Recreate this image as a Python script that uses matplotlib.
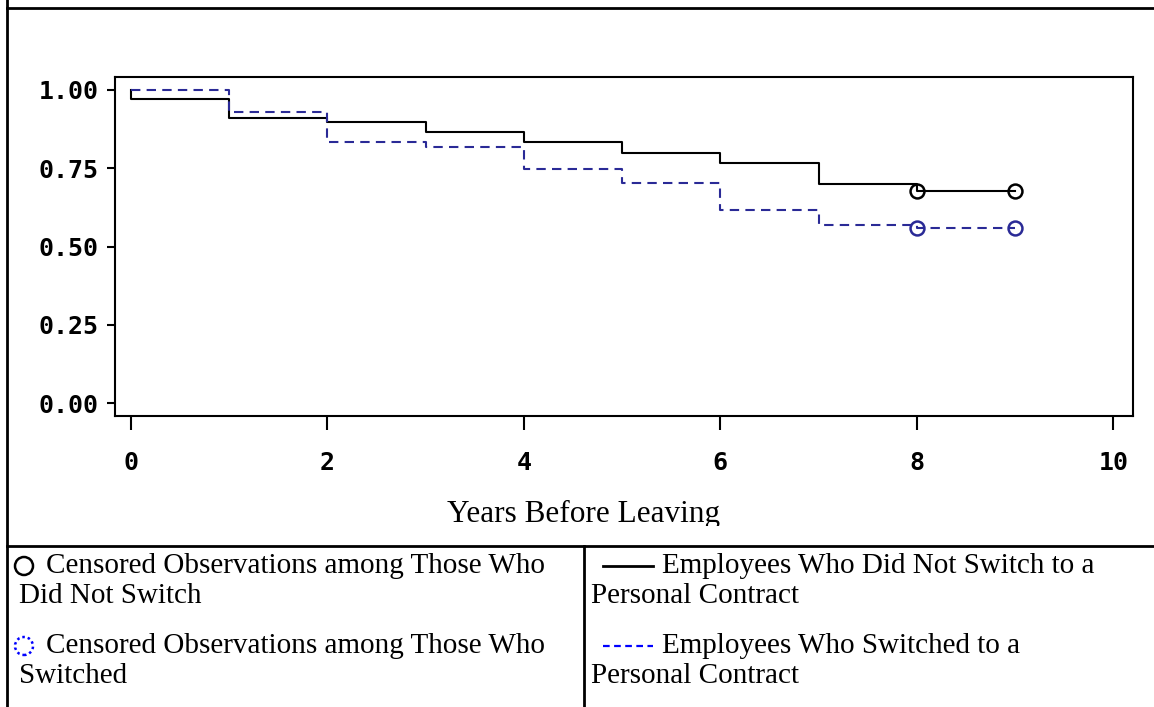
import numpy as np
import matplotlib
matplotlib.use("Agg")
import matplotlib.pyplot as plt
from matplotlib.patches import Ellipse, Rectangle
from matplotlib.lines import Line2D

# survival estimates (step starts)
years = [0, 0, 1, 2, 3, 4, 5, 6, 7, 8, 9]
surv_no_switch = [1.0, 0.971, 0.912, 0.897, 0.867, 0.835, 0.798, 0.766, 0.699, 0.678, 0.678]
surv_switch = [1.0, 1.0, 0.929, 0.835, 0.817, 0.747, 0.702, 0.617, 0.569, 0.558, 0.558]

# censored observations
censor_years = [8, 9]
censor_no_switch = [0.678, 0.678]
censor_switch = [0.558, 0.558]

xticks = [0, 2, 4, 6, 8, 10]
yticks = [0.0, 0.25, 0.5, 0.75, 1.0]
ytick_labels = ["0.00", "0.25", "0.50", "0.75", "1.00"]
xlabel = "Years Before Leaving"

legend_left = [("Censored Observations among Those Who", "Did Not Switch"),
               ("Censored Observations among Those Who", "Switched")]
legend_right = [("Employees Who Did Not Switch to a", "Personal Contract"),
                ("Employees Who Switched to a", "Personal Contract")]

W, H = 1154, 707
BLUE = "#2a2a96"


def fx(x):
    return x / W


def fy(y):
    return 1 - y / H


fig = plt.figure(figsize=(W / 100, H / 100), dpi=100)
fig.patch.set_facecolor("white")

ax = fig.add_axes([fx(115), fy(416), fx(1133) - fx(115), fy(77) - fy(416)])
ax.plot(years, surv_no_switch, drawstyle="steps-post", color="black", lw=1.5)
ax.plot(years, surv_switch, drawstyle="steps-post", color=BLUE, lw=1.5,
        linestyle=(0, (4.5, 3)))
ax.plot(censor_years, censor_no_switch, "o", mfc="none", mec="black", ms=10, mew=1.8)
ax.plot(censor_years, censor_switch, "o", mfc="none", mec=BLUE, ms=10, mew=1.8)

ax.set_xlim(-0.16, 10.2)
ax.set_ylim(-0.0415, 1.0415)
ax.set_xticks(xticks)
ax.set_yticks(yticks)
ax.set_yticklabels(ytick_labels)
mono = matplotlib.font_manager.FontProperties(family="DejaVu Sans Mono",
                                               weight="bold", size=18)
for lab in ax.get_xticklabels() + ax.get_yticklabels():
    lab.set_fontproperties(mono)
ax.tick_params(axis="x", length=10, width=1.5, pad=15)
ax.tick_params(axis="y", length=6, width=1.5, pad=6)
for s in ax.spines.values():
    s.set_linewidth(1.5)

fig.text(fx(584), fy(522), xlabel, ha="center", va="baseline",
         family="Liberation Serif", size=22.5)
# the label is cut off by the table row below it
fig.add_artist(Rectangle((0, fy(546)), 1, fy(526) - fy(546),
                         transform=fig.transFigure, facecolor="white",
                         edgecolor="none", zorder=5))

# table borders
border = dict(color="black", lw=2, transform=fig.transFigure, zorder=6)
fig.add_artist(Line2D([fx(7), fx(7)], [0, 1], **border))
fig.add_artist(Line2D([fx(7), 1], [fy(8), fy(8)], **border))
fig.add_artist(Line2D([fx(7), 1], [fy(546), fy(546)], **border))
fig.add_artist(Line2D([fx(584), fx(584)], [0, fy(546)], **border))

# legend cells
serif = dict(family="Liberation Serif", size=21, va="baseline", zorder=7)
rows = [573, 653]
for i, (a, b) in enumerate(legend_left):
    fig.text(fx(46), fy(rows[i]), a, **serif)
    fig.text(fx(19), fy(rows[i] + 30), b, **serif)
for i, (a, b) in enumerate(legend_right):
    fig.text(fx(662), fy(rows[i]), a, **serif)
    fig.text(fx(591), fy(rows[i] + 30), b, **serif)

fig.add_artist(Ellipse((fx(24), fy(566)), 18 / W, 18 / H, transform=fig.transFigure,
                       facecolor="none", edgecolor="black", lw=1.8, zorder=7))
fig.add_artist(Ellipse((fx(24), fy(646)), 18 / W, 18 / H, transform=fig.transFigure,
                       facecolor="none", edgecolor="#0000ff", lw=1.8,
                       linestyle=(0, (1, 1.2)), zorder=7))
fig.add_artist(Line2D([fx(603), fx(653)], [fy(566), fy(566)], color="black",
                      lw=2, transform=fig.transFigure, zorder=7))
fig.add_artist(Line2D([fx(603), fx(653)], [fy(646), fy(646)], color="#0000ff",
                      lw=1.6, linestyle=(0, (3, 2)),
                      transform=fig.transFigure, zorder=7))

fig.savefig("out.png", dpi=100)
